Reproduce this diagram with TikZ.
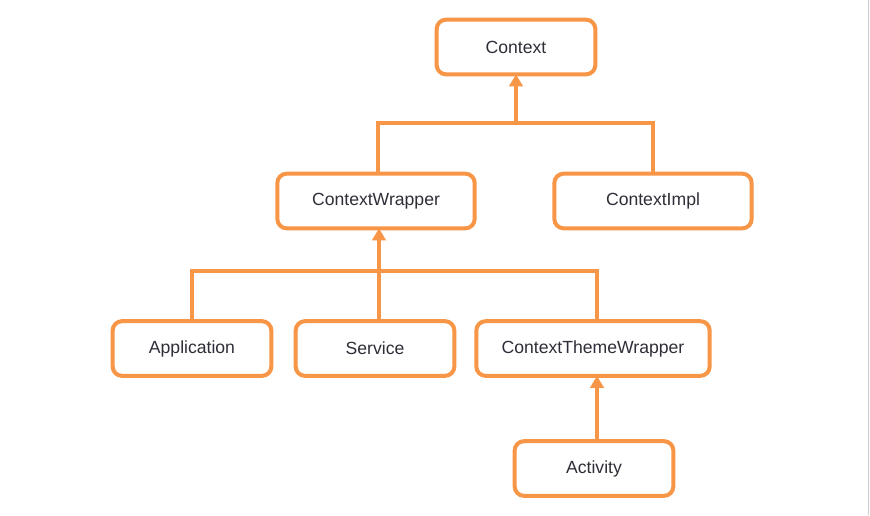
\documentclass[tikz,border=0pt]{standalone}
\usepackage{fontspec}
\setmainfont{Liberation Sans}
\usetikzlibrary{arrows.meta}
\definecolor{orng}{HTML}{F79646}
\definecolor{txt}{HTML}{2E2E38}
\begin{document}
\begin{tikzpicture}[x=0.75pt,y=-0.75pt,
  cls/.style={draw=orng,line width=3pt,rounded corners=7pt,fill=white,
    minimum width=119pt,minimum height=41pt,inner sep=0pt,
    text=txt,font=\fontsize{13.2}{15}\selectfont},
  link/.style={draw=orng,line width=3pt},
  arr/.style={link,-{Triangle[width=10pt,length=9pt]},shorten >=-1.5pt}]
\useasboundingbox[fill=white] (0,0) rectangle (870,515);
\draw[gray!40,line width=0.75pt] (868,0) -- (868,515);
\node[cls] (ctx) at (516,47) {Context};
\node[cls,minimum width=148pt] (cw) at (376,201) {ContextWrapper};
\node[cls,minimum width=148pt] (ci) at (653,201) {ContextImpl};
\node[cls] (app) at (192,348.5) {Application};
\node[cls] (srv) at (375,348.5) {Service};
\node[cls,minimum width=175pt] (ctw) at (593,348.5) {ContextThemeWrapper};
\node[cls] (act) at (594,468.5) {Activity};
\coordinate (b1) at (516,123);
\coordinate (b2) at (379,271);
\draw[link] ([xshift=1.5pt]cw.north) |- (b1) -| (ci.north);
\draw[arr] (b1) -- (ctx.south);
\draw[link] (app.north) |- (b2) -| ([xshift=3pt]ctw.north);
\draw[link] ([xshift=3pt]srv.north) -- (b2);
\draw[arr] (b2) -- ([xshift=2.25pt]cw.south);
\draw[arr] ([xshift=2.25pt]act.north) -- ([xshift=3pt]ctw.south);
\end{tikzpicture}
\end{document}
